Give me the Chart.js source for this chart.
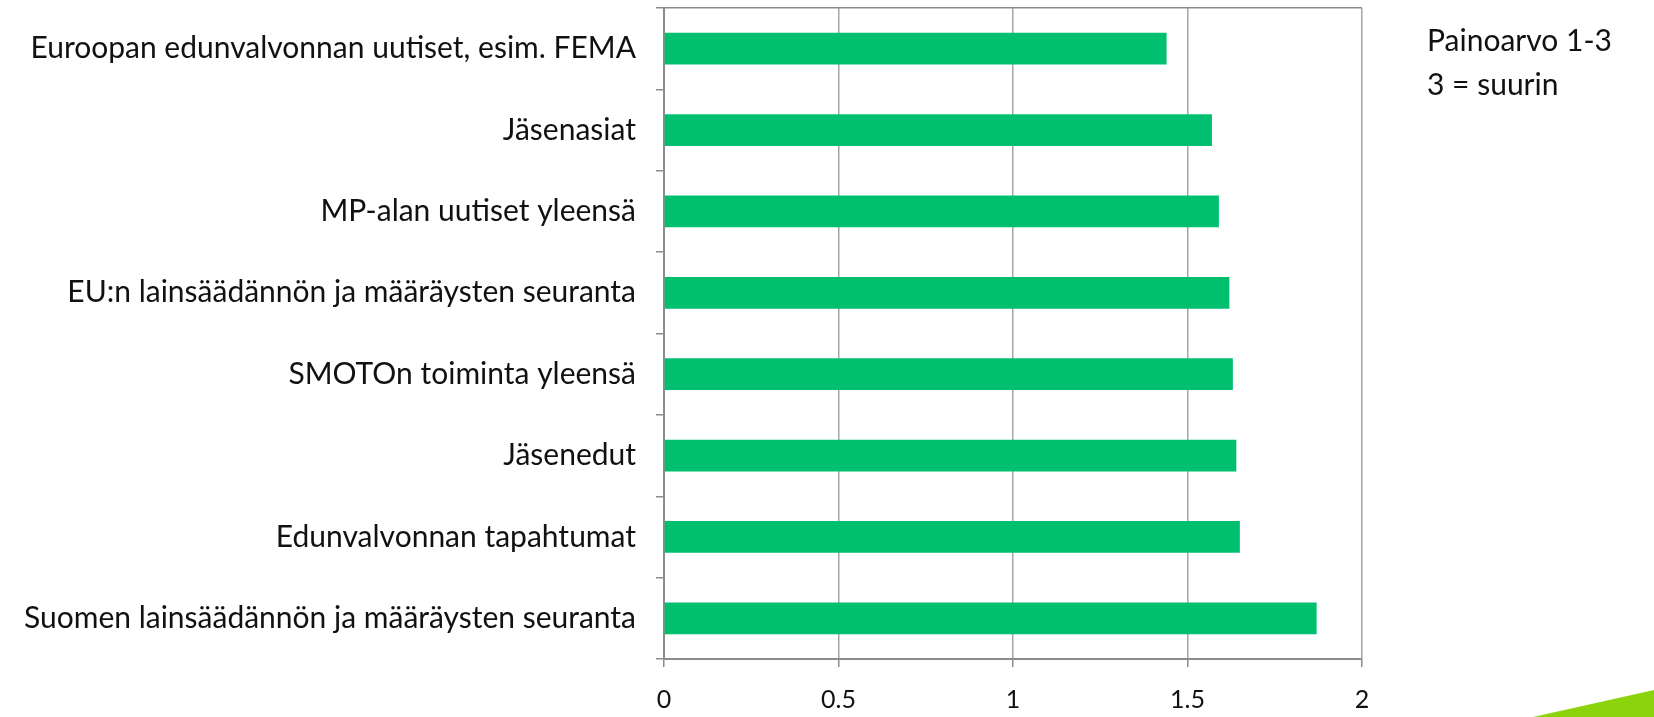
<!DOCTYPE html>
<html lang="fi">
<head>
    <meta charset="UTF-8">
    <title>Painoarvo</title>
    <script src="https://cdn.jsdelivr.net/npm/chart.js"></script>
    <style>
        html, body { margin: 0; padding: 0; background: #fff; }
        #wrap { position: relative; width: 1654px; height: 717px; overflow: hidden; }
        #note { position: absolute; left: 1427px; top: 17px; font-family: Lato, sans-serif; font-size: 30px; line-height: 44px; color: #111; }
        #wedge { position: absolute; left: 1533px; top: 690px; width: 121px; height: 27px; background: #8bd40b; clip-path: polygon(100% 0, 100% 100%, 0 100%); }
    </style>
</head>
<body>
<div id="wrap">
    <canvas id="chart" width="1654" height="717"></canvas>
    <div id="note">Painoarvo 1-3<br>3 = suurin</div>
    <div id="wedge"></div>
</div>
<script>
// aiheet ylhäältä alas
const categories = [
    'Euroopan edunvalvonnan uutiset, esim. FEMA',
    'Jäsenasiat',
    'MP-alan uutiset yleensä',
    'EU:n lainsäädännön ja määräysten seuranta',
    'SMOTOn toiminta yleensä',
    'Jäsenedut',
    'Edunvalvonnan tapahtumat',
    'Suomen lainsäädännön ja määräysten seuranta'
];
const values = [1.44, 1.57, 1.59, 1.62, 1.63, 1.64, 1.65, 1.87];
const xTicks = [0, 0.5, 1, 1.5, 2];

const gridGray = '#a6a6a6';
const axisGray = '#8c8c8c';

new Chart(document.getElementById('chart'), {
    type: 'bar',
    data: {
        labels: categories,
        datasets: [{
            data: values,
            backgroundColor: '#00bf6f',
            categoryPercentage: 1,
            barPercentage: 0.39
        }]
    },
    options: {
        indexAxis: 'y',
        responsive: false,
        animation: false,
        layout: { padding: { top: 8, right: 292, left: 0, bottom: 0 } },
        plugins: { legend: { display: false }, tooltip: { enabled: false } },
        scales: {
            x: {
                min: 0,
                max: 2,
                afterBuildTicks: s => { s.ticks = xTicks.map(v => ({ value: v })); },
                afterFit: s => { s.height = 58; s.paddingLeft = 0; s.paddingRight = 0; },
                grid: { color: gridGray, lineWidth: 1.5, tickLength: 8, tickColor: axisGray },
                border: { color: axisGray, width: 2 },
                ticks: {
                    color: '#111', padding: 18, font: { family: 'Lato', size: 25 },
                    callback: v => String(v)
                }
            },
            y: {
                afterFit: s => { s.width = 664; s.paddingTop = 0; s.paddingBottom = 0; },
                grid: {
                    offset: true,
                    color: c => c.index === 0 ? axisGray : 'rgba(0,0,0,0)',
                    lineWidth: 1.5,
                    tickLength: 8,
                    tickColor: axisGray
                },
                border: { color: axisGray, width: 2 },
                ticks: { color: '#111', padding: 20, font: { family: 'Lato', size: 30 } }
            }
        }
    }
});
</script>
</body>
</html>
